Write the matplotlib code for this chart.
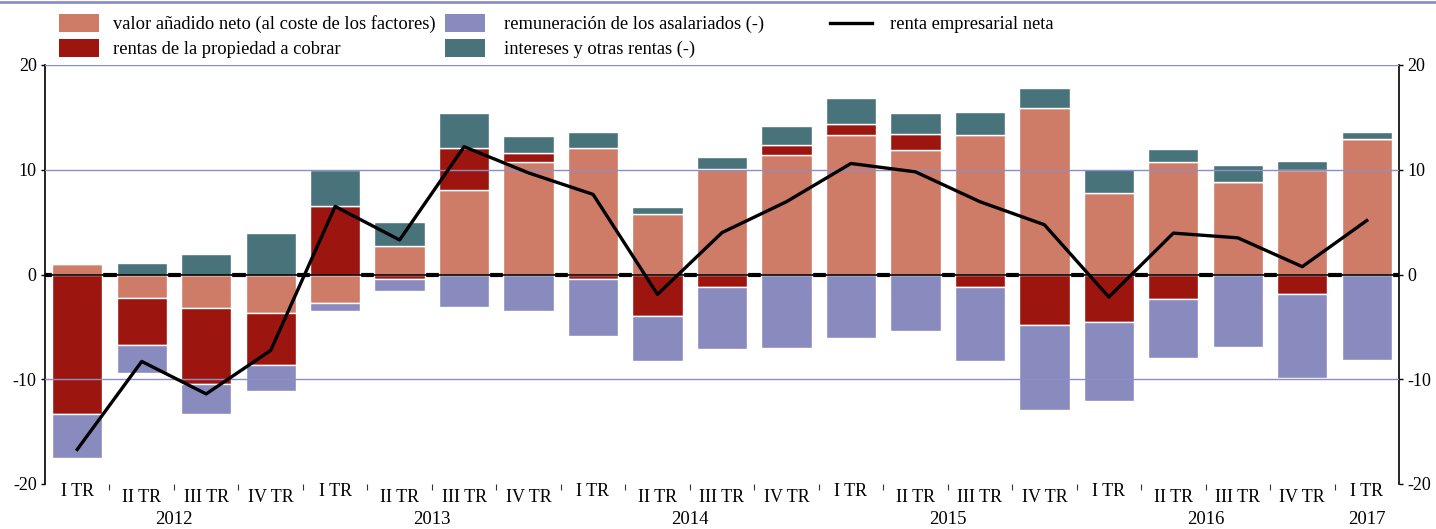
import matplotlib
matplotlib.use("Agg")
import matplotlib.pyplot as plt
import matplotlib.transforms as mtransforms
from matplotlib.patches import Rectangle
from matplotlib.lines import Line2D
import numpy as np

plt.rcParams["font.family"] = ["Liberation Serif", "DejaVu Serif"]

quarters = ["I TR", "II TR", "III TR", "IV TR"] * 5 + ["I TR"]
years = ["2012", "2013", "2014", "2015", "2016", "2017"]
year_pos = [1.5, 5.5, 9.5, 13.5, 17.5, 20]

valor_anadido = [1.0, -2.2, -3.2, -3.65, -2.7, 2.7, 8.1, 10.7, 12.1, 5.8, 10.1,
                 11.4, 13.35, 11.85, 13.35, 15.85, 7.75, 10.7, 8.85, 10.0, 12.95]
rentas_propiedad = [-13.3, -4.55, -7.25, -4.95, 6.5, -0.45, 4.0, 0.9, -0.4, -4.0, -1.15,
                    0.95, 1.05, 1.6, -1.15, -4.85, -4.55, -2.3, 0.0, -1.9, 0.0]
remuneracion = [-4.25, -2.7, -2.85, -2.5, -0.8, -1.15, -3.1, -3.45, -5.45, -4.25, -5.95,
                -7.05, -6.05, -5.4, -7.1, -8.05, -7.5, -5.65, -6.9, -7.95, -8.15]
intereses = [0.0, 1.1, 2.0, 3.95, 3.5, 2.3, 3.3, 1.6, 1.55, 0.65, 1.15,
             1.85, 2.45, 1.95, 2.15, 2.0, 2.35, 1.3, 1.65, 0.8, 0.65]
renta_neta = [-16.7, -8.3, -11.4, -7.25, 6.5, 3.3, 12.2, 9.7, 7.65, -1.9, 4.0,
              6.95, 10.6, 9.8, 6.95, 4.75, -2.15, 3.95, 3.5, 0.75, 5.15]

series = [
    ("valor añadido neto (al coste de los factores)", valor_anadido, "#CE7B68"),
    ("rentas de la propiedad a cobrar", rentas_propiedad, "#9D150F"),
    ("remuneración de los asalariados (-)", remuneracion, "#898BBE"),
    ("intereses y otras rentas (-)", intereses, "#49737A"),
]

W, H = 1436, 529
fig = plt.figure(figsize=(W / 100, H / 100), dpi=100)
ax = fig.add_axes([45 / W, 1 - 484 / H, (1399 - 45) / W, (484 - 65) / H])

x = np.arange(len(quarters))
pos_bottom = np.zeros(len(x))
neg_bottom = np.zeros(len(x))
for label, vals, color in series:
    v = np.array(vals)
    bottom = np.where(v >= 0, pos_bottom, neg_bottom)
    ax.bar(x, v, 0.78, bottom=bottom, color=color, edgecolor="white",
           linewidth=1.0, zorder=2)
    pos_bottom += np.where(v >= 0, v, 0)
    neg_bottom += np.where(v < 0, v, 0)

ax.plot(x, renta_neta, color="black", linewidth=2.4, zorder=5)

# zero line: thick dashes in the gaps plus thin line across
ax.axhline(0, color="black", linewidth=3.0, zorder=1)
ax.axhline(0, color="black", linewidth=1.2, zorder=4)
for yv in (20, 10, -10):
    ax.axhline(yv, color="#8E8EC6", linewidth=1.0, zorder=3)

ax.set_xlim(-0.5, 20.5)
ax.set_ylim(-20, 20)
ax.set_yticks([-20, -10, 0, 10, 20])
ax.set_yticklabels(["-20", "-10", "0", "10", "20"])
ax.tick_params(axis="y", which="both", direction="out", length=3, width=1,
               labelsize=13, left=True, right=True, labelleft=True, labelright=True,
               pad=3)
ax.set_xticks([])
ax.set_xticks(x[:-1] + 0.5, minor=True)
ax.tick_params(axis="x", which="minor", direction="out", length=4, width=0.8,
               color="#333333")
for side in ("top", "bottom"):
    ax.spines[side].set_visible(False)
for side in ("left", "right"):
    ax.spines[side].set_color("black")
    ax.spines[side].set_linewidth(1.2)

# quarter and year labels
trans = mtransforms.blended_transform_factory(ax.transData, fig.transFigure)
for i, q in enumerate(quarters):
    yy = 1 - 491 / H if q == "I TR" else 1 - 497 / H
    ax.text(i, yy, q, transform=trans, ha="center", va="center", fontsize=13)
for yp, yr in zip(year_pos, years):
    ax.text(yp, 1 - 520 / H, yr, transform=trans, ha="center", va="center",
            fontsize=13.5)

# legend
def px(xp, yp):
    return xp / W, 1 - yp / H

legend_slots = [(59, 14, 113), (59, 39, 113), (445, 14, 504), (445, 39, 504)]
for (lx, ly, tx), (label, _, color) in zip(legend_slots, series):
    fig.add_artist(Rectangle(px(lx, ly + 18), 40 / W, 18 / H, facecolor=color,
                             edgecolor="none", transform=fig.transFigure))
    fig.text(*px(tx, ly + 10), label, ha="left", va="center", fontsize=13.3)
fig.add_artist(Line2D([830 / W, 872 / W], [1 - 22.5 / H, 1 - 22.5 / H], color="black",
                      linewidth=2.4, transform=fig.transFigure))
fig.text(*px(890, 24.5), "renta empresarial neta", ha="left", va="center",
         fontsize=13.3)

fig.add_artist(Line2D([0, 1], [1 - 1.5 / H, 1 - 1.5 / H], color="#8E8EC6",
                      linewidth=2.0, transform=fig.transFigure))

fig.savefig("out.png", dpi=100)
